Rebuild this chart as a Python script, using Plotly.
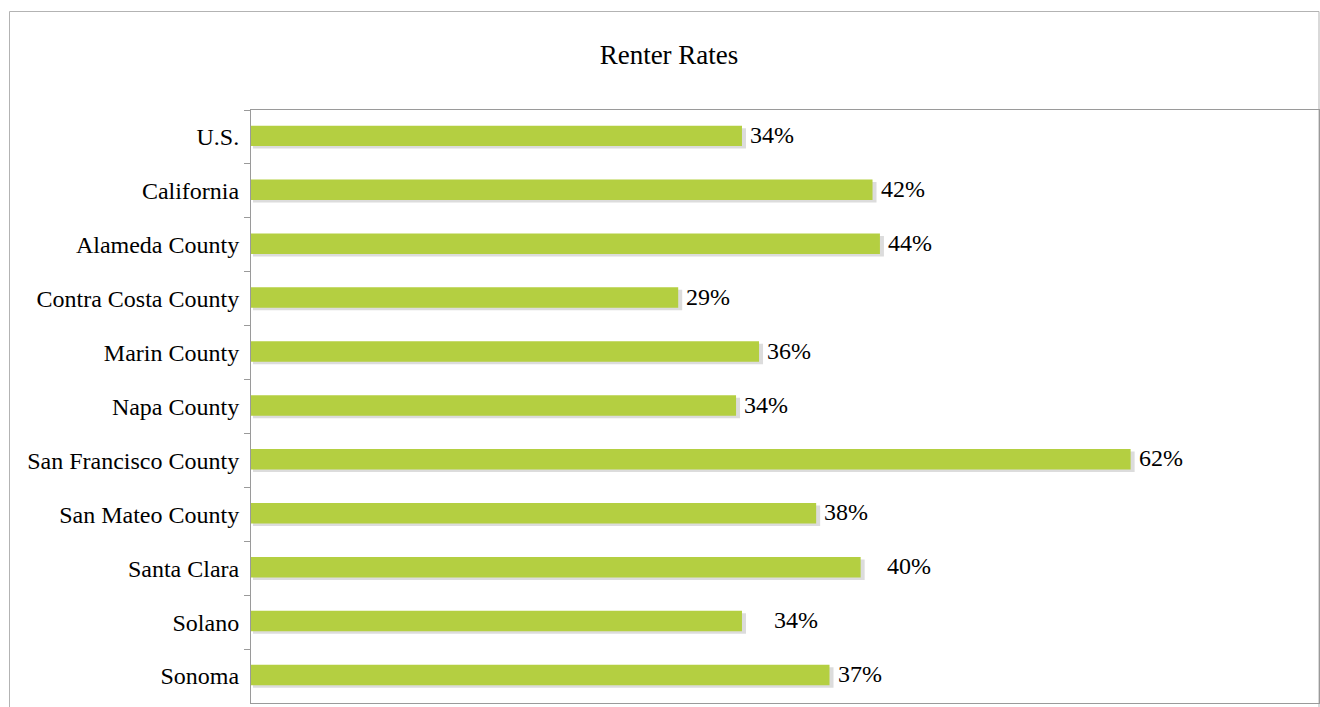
import plotly.graph_objects as go

# ---- data ----
categories = ["U.S.", "California", "Alameda County", "Contra Costa County", "Marin County",
              "Napa County", "San Francisco County", "San Mateo County", "Santa Clara",
              "Solano", "Sonoma"]
values = [33.1, 41.9, 42.4, 28.8, 34.25, 32.7, 59.3, 38.1, 41.1, 33.1, 39.0]
labels = ["34%", "42%", "44%", "29%", "36%", "34%", "62%", "38%", "40%", "34%", "37%"]
title_text = "Renter Rates"

# ---- style ----
FONT = "Liberation Serif"
BAR_COLOR = "#b4cf41"
SHADOW_COLOR = "#dcdcdc"
AXIS_COLOR = "#9a9a9a"
X_MAX = 72.0
BAR_W = 0.38
label_gap = {"Santa Clara": 23, "Solano": 29}  # manually moved labels (px)

FIG_W, FIG_H = 1320, 707
PL, PR, PT, PB = 251, 1319, 110, 703
PLOT_W = PR - PL
PLOT_H = PB - PT
px_per_unit = PLOT_W / X_MAX
shadow_dx = 2.0 / px_per_unit
step = PLOT_H / len(categories)

fig = go.Figure()

# shadow
fig.add_trace(go.Bar(
    y=categories, x=[v + shadow_dx for v in values], base=shadow_dx, orientation="h",
    width=BAR_W, offset=-BAR_W / 2 - 0.02 + 2.5 / step,
    marker=dict(color=SHADOW_COLOR, line=dict(width=0)), hoverinfo="skip", showlegend=False))
# bars
fig.add_trace(go.Bar(
    y=categories, x=values, orientation="h", width=BAR_W, offset=-BAR_W / 2 - 0.02,
    marker=dict(color=BAR_COLOR, line=dict(width=0)), showlegend=False))

for c, v, t in zip(categories, values, labels):
    fig.add_annotation(x=v, y=c, text=t, showarrow=False, xanchor="left", yanchor="middle",
                       xshift=label_gap.get(c, 5) + 1, yshift=2,
                       font=dict(family=FONT, size=24, color="#000000"))

# outer chart border
fig.add_shape(type="rect", xref="paper", yref="paper",
              x0=(9.5 - PL) / PLOT_W, x1=1.0, y0=-0.05, y1=(PB - 11.5) / PLOT_H,
              line=dict(color="#b3b3b3", width=1), layer="below")

fig.update_layout(
    width=FIG_W, height=FIG_H,
    margin=dict(l=PL, r=FIG_W - PR, t=PT, b=FIG_H - PB),
    paper_bgcolor="white", plot_bgcolor="white",
    barmode="overlay",
    title=dict(text=title_text, x=669 / FIG_W, xanchor="center",
               y=1 - 55 / FIG_H, yanchor="middle",
               font=dict(family=FONT, size=27, color="#000000")),
    font=dict(family=FONT, size=24, color="#000000"),
    xaxis=dict(range=[0, X_MAX], showgrid=False, zeroline=False, showticklabels=False,
               showline=True, linecolor=AXIS_COLOR, linewidth=1, mirror=True, ticks=""),
    yaxis=dict(autorange="reversed", showgrid=False, zeroline=False,
               showline=True, linecolor=AXIS_COLOR, linewidth=1, mirror=True,
               ticks="outside", ticklen=6, tickcolor=AXIS_COLOR, tickson="boundaries",
               ticklabelstandoff=6,
               tickfont=dict(family=FONT, size=24, color="#000000")),
)

fig.write_html("out.html", config={"displayModeBar": False},
               post_script="document.body.style.margin='0';document.body.style.overflow='hidden';")
